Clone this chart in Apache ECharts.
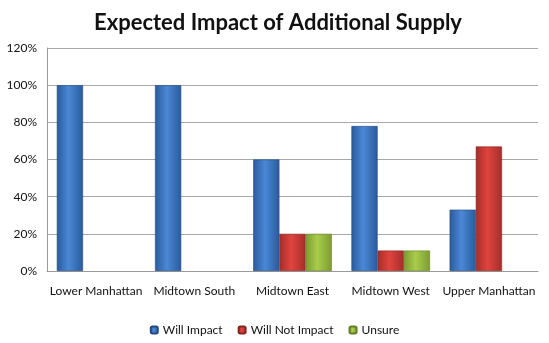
<!DOCTYPE html>
<html><head><meta charset="utf-8">
<script src="https://cdn.jsdelivr.net/npm/echarts@6/dist/echarts.min.js"></script>
<style>html,body{margin:0;padding:0;background:#fff}#c{width:549px;height:343px}</style>
</head><body><div id="c"></div>
<script>
const categories = ['Lower Manhattan', 'Midtown South', 'Midtown East', 'Midtown West', 'Upper Manhattan'];
const willImpact = [100, 100, 60, 78, 33];
const willNotImpact = [0, 0, 20, 11, 67];
const unsure = [0, 0, 20, 11, 0];
const seriesNames = ['Will Impact', 'Will Not Impact', 'Unsure'];

function grad(edge, mid) {
  return new echarts.graphic.LinearGradient(0, 0, 1, 0, [
    {offset: 0, color: edge}, {offset: 0.45, color: mid}, {offset: 1, color: edge}
  ]);
}
const palette = [
  {edge: '#2a5a9c', mid: '#4a88d6', border: '#23497e'},
  {edge: '#a52d29', mid: '#e0443f', border: '#862420'},
  {edge: '#7c9c30', mid: '#a9cc4c', border: '#637d26'}
];
const dataSets = [willImpact, willNotImpact, unsure];
const font = 'Lato, "Open Sans", sans-serif';

const chart = echarts.init(document.getElementById('c'), null, {renderer: 'canvas'});
chart.setOption({
  animation: false,
  title: {
    text: 'Expected Impact of Additional Supply',
    left: 273, top: 7, textAlign: 'center',
    textStyle: {fontFamily: font, fontWeight: 'bold', fontSize: 22, color: '#111'}
  },
  legend: {
    data: seriesNames,
    left: 'center', top: 319,
    itemWidth: 7, itemHeight: 7, itemGap: 15,
    textStyle: {fontFamily: font, fontSize: 12, color: '#111'}
  },
  grid: {left: 47, right: 11, top: 48, bottom: 72},
  xAxis: {
    type: 'category', data: categories,
    axisLine: {lineStyle: {color: '#9a9a9a'}},
    axisTick: {show: false},
    axisLabel: {margin: 14, fontFamily: font, fontSize: 12, color: '#111', interval: 0}
  },
  yAxis: {
    type: 'value', min: 0, max: 120, interval: 20,
    axisLine: {show: true, lineStyle: {color: '#9a9a9a'}},
    axisTick: {show: false},
    splitLine: {lineStyle: {color: '#a8a8a8'}},
    axisLabel: {formatter: '{value}%', margin: 10, fontFamily: font, fontSize: 12, color: '#111'}
  },
  series: dataSets.map((d, i) => ({
    name: seriesNames[i], type: 'bar',
    data: d.map(v => v === 0 ? {value: v, itemStyle: {borderWidth: 0}} : v),
    barGap: '0%', barCategoryGap: '20%',
    itemStyle: {color: grad(palette[i].edge, palette[i].mid), borderColor: palette[i].border, borderWidth: 0.6}
  }))
});
</script></body></html>
